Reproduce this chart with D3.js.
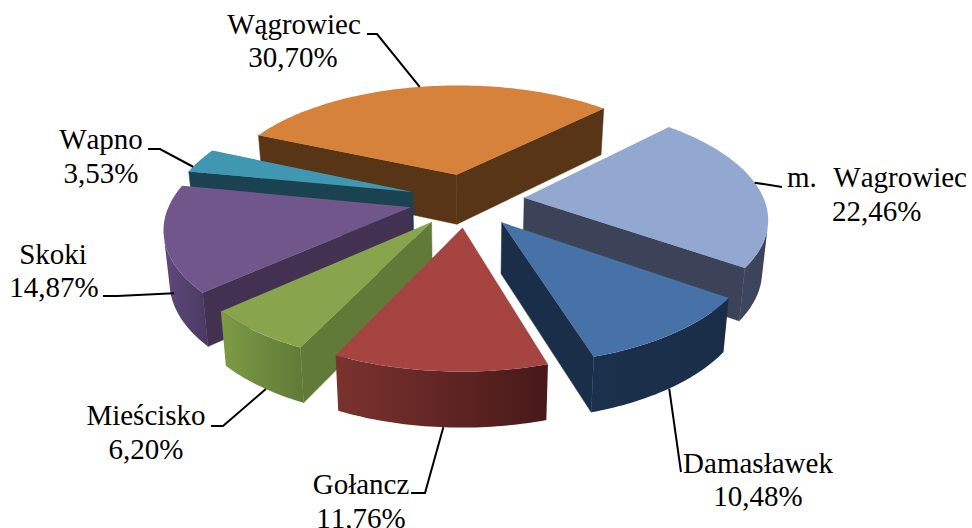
<!DOCTYPE html>
<html><head><meta charset="utf-8">
<script src="https://cdnjs.cloudflare.com/ajax/libs/d3/7.8.5/d3.min.js"></script>
<style>html,body{margin:0;padding:0;background:#fff;overflow:hidden}svg{display:block}
text{font-family:"Liberation Serif",serif;font-size:29px;fill:#000;white-space:pre;font-kerning:none;word-spacing:1px}</style>
</head><body>
<script>
const categories=["Wągrowiec","m.  Wagrowiec","Damasławek","Gołancz","Mieścisko","Skoki","Wapno"];
const shares=[30.70,22.46,10.48,11.76,6.20,14.87,3.53];
const shareLabels=["30,70%","22,46%","10,48%","11,76%","6,20%","14,87%","3,53%"];
const topColors=["#d6823b","#92a8d0","#4672a8","#a64441","#88a54e","#71568c","#3f97b1"];
const cutColors=["#583516","#3c4358","#1a2e4a","#4d1c1b","#617a38","#433152","#1a4250"];
const wallLeft=["#7f4e22","#3d4660","#1b304c","#7b322f","#7d9b46","#5f4a7c","#1f4a5a"];
const wallRight=["#7f4e22","#3b4359","#1a2d48","#471918","#607a37","#4a3861","#1a4250"];
const paintOrder=[0,6,1,5,4,2,3];
// label layout: text anchor, x, first baseline, leader start points, rim angle & height fraction of the leader's end
const labelLayout=[
 {a:"middle",x:294,y:33.5,x2:293,leader:[[367,34],[377,34]],end:[-11,0]},
 {a:"start",x:787,y:187,x2:832,leader:[[782,187]],end:[82,0]},
 {a:"middle",x:758,y:472.5,x2:758,leader:[[681,472]],end:[144.5,1]},
 {a:"middle",x:361,y:494,x2:361,leader:[[411,493],[425,493]],end:[183.6,1]},
 {a:"middle",x:146,y:425,x2:146,leader:[[211,426],[223,426]],end:[215,1]},
 {a:"middle",x:53,y:263.5,x2:54,leader:[[103,296],[117,296]],end:[246,0.7]},
 {a:"middle",x:101,y:149,x2:101,leader:[[148,149],[160,149]],end:[284,0]}
];
const W=972,H=528;
const cx=467,cy=200,Rx=240,Ry=111,persp=0.16,explode=0.24,depth=50.5,depthTilt=0.088,shrink=0.98;
const startDeg=-66;
const pie=d3.pie().sort(null).startAngle(startDeg*Math.PI/180).endAngle((startDeg+360)*Math.PI/180);
const arcs=pie(shares);
const svg=d3.select("body").append("svg").attr("width",W).attr("height",H).attr("viewBox",`0 0 ${W} ${H}`);
const defs=svg.append("defs");
const line=d3.line();
function project(px,py,z){ // px right, py toward viewer, in radius units; z 0 top, 1 bottom
  const s=1/(1-persp*py);
  const x=Rx*px*s, y=Ry*py*s;
  return [cx+x*(1-(1-shrink)*z), cy+y+depth*(1+depthTilt*py)*z];
}
function slicePoint(a,t,r,z){
  const m=(a.startAngle+a.endAngle)/2;
  const px=explode*Math.sin(m)+r*Math.sin(t), py=-explode*Math.cos(m)-r*Math.cos(t);
  return project(px,py,z);
}
paintOrder.forEach(i=>{
  const a=arcs[i],g=svg.append("g");
  const n=Math.max(8,Math.round((a.endAngle-a.startAngle)*180/Math.PI));
  const ts=d3.range(n+1).map(k=>a.startAngle+(a.endAngle-a.startAngle)*k/n);
  const tp=ts.map(t=>slicePoint(a,t,1,0)), bp=ts.map(t=>slicePoint(a,t,1,1));
  const at=slicePoint(a,0,0,0), ab=slicePoint(a,0,0,1);
  const face=(q,c)=>{if(d3.polygonArea(q)>0)g.append("path").attr("d",line(q)+"Z").attr("fill",c).attr("stroke",c).attr("stroke-width",0.5);};
  const vis=d3.range(n).filter(k=>d3.polygonArea([tp[k],tp[k+1],bp[k+1],bp[k]])>0);
  if(vis.length){
    const k0=vis[0],k1=vis[vis.length-1]+1;
    const poly=tp.slice(k0,k1+1).concat(bp.slice(k0,k1+1).reverse());
    const xs=d3.extent(poly,d=>d[0]);
    const id="wall"+i;
    const lg=defs.append("linearGradient").attr("id",id).attr("gradientUnits","userSpaceOnUse")
      .attr("x1",xs[0]).attr("x2",xs[1]).attr("y1",0).attr("y2",0);
    lg.append("stop").attr("offset",0).attr("stop-color",wallLeft[i]);
    lg.append("stop").attr("offset",1).attr("stop-color",wallRight[i]);
    g.append("path").attr("d",line(poly)+"Z").attr("fill",`url(#${id})`);
  }
  face([at,tp[0],bp[0],ab],cutColors[i]);
  face([tp[n],at,ab,bp[n]],cutColors[i]);
  g.append("path").attr("d",line([at].concat(tp))+"Z").attr("fill",topColors[i]);
});
labelLayout.forEach((l,i)=>{
  const a=arcs[i];
  const t=((l.end[0]+(l.end[0]<startDeg?360:0))*Math.PI/180);
  const e=slicePoint(a,t,1,l.end[1]);
  svg.append("path").attr("d",line(l.leader.concat([e]))).attr("fill","none").attr("stroke","#000").attr("stroke-width",2);
  const tx=svg.append("text").attr("text-anchor",l.a);
  tx.append("tspan").attr("x",l.x).attr("y",l.y).text(categories[i]);
  tx.append("tspan").attr("x",l.x2).attr("y",l.y+33.5).text(shareLabels[i]);
});
</script></body></html>
